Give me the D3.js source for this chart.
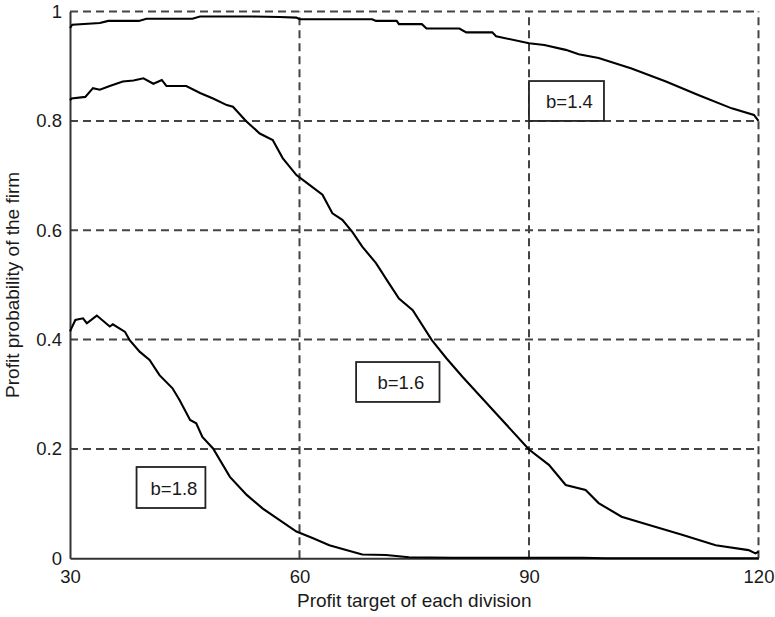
<!DOCTYPE html>
<html>
<head>
<meta charset="utf-8">
<script src="https://cdn.jsdelivr.net/npm/d3@7.9.0/dist/d3.min.js"></script>
<style>
  body { margin: 0; background: #fff; }
  svg { display: block; font-family: "Liberation Sans", Arial, sans-serif; }
</style>
</head>
<body>
<svg width="775" height="617"></svg>
<script>
// values: [profit target, probability]
const b14 = [[30,0.970],[30.3,0.976],[33.9,0.979],[35,0.983],[39,0.983],[40,0.987],[46,0.987],[47,0.991],[53.9,0.991],
  [57.4,0.990],[59.6,0.989],[60,0.986],[69.5,0.986],[70,0.983],[72.7,0.983],[73,0.977],[76,0.977],[76.6,0.969],
  [80.9,0.969],[81.8,0.962],[85.2,0.962],[85.7,0.955],[90,0.942],[92,0.939],[94.8,0.930],[96.5,0.922],[99.1,0.915],
  [103.4,0.896],[107.9,0.872],[112.2,0.847],[116.5,0.823],[119.4,0.811],[120,0.800]];

const b16 = [[30,0.838],[30.2,0.841],[32,0.844],[33,0.860],[33.9,0.857],[35.2,0.864],[36.9,0.872],[38.3,0.874],
  [39.6,0.878],[40.9,0.868],[42,0.875],[42.6,0.864],[45.2,0.864],[47,0.851],[48.7,0.841],[50.5,0.829],[51.3,0.826],
  [53,0.800],[54.8,0.777],[56.5,0.765],[57.8,0.732],[59.6,0.701],[61.3,0.683],[63,0.665],[64.3,0.631],[65.6,0.619],
  [66.9,0.597],[68.2,0.570],[70,0.540],[71.7,0.503],[73,0.475],[74.8,0.454],[77.3,0.399],[79.2,0.366],[81.3,0.332],
  [85.7,0.265],[90,0.199],[92.6,0.171],[94.8,0.134],[97.4,0.125],[99.1,0.101],[102.1,0.076],[105.7,0.061],
  [110,0.043],[114.4,0.024],[118.7,0.015],[119.6,0.009],[120,0.012]];

const b18 = [[30,0.415],[30.2,0.421],[30.7,0.436],[31.7,0.439],[32.2,0.430],[33.5,0.444],[35.2,0.424],[35.6,0.428],
  [37.2,0.414],[37.8,0.399],[39.1,0.378],[40.4,0.363],[41.7,0.335],[43.4,0.311],[44.3,0.290],[45.7,0.253],
  [46.5,0.247],[47.3,0.222],[48.7,0.201],[50.9,0.149],[53.1,0.116],[55.2,0.091],[57.4,0.070],[59.6,0.049],
  [61.7,0.037],[63.9,0.024],[66.1,0.015],[68.2,0.007],[71.3,0.006],[74.3,0.002],[80,0.001],[97,0.001],[100,0],[120,0]];

const xTicks = [30, 60, 90, 120];
const yTicks = [0, 0.2, 0.4, 0.6, 0.8, 1];

// label boxes: text, left/right x, bottom/top y (data units)
const labels = [
  { text: 'b=1.4', x0: 90, x1: 99.8, y0: 0.800, y1: 0.873 },
  { text: 'b=1.6', x0: 67.4, x1: 78.3, y0: 0.286, y1: 0.359 },
  { text: 'b=1.8', x0: 38.7, x1: 47.7, y0: 0.092, y1: 0.167 }
];

const svg = d3.select('svg');
const x = d3.scaleLinear().domain([30, 120]).range([70, 758.5]);
const y = d3.scaleLinear().domain([0, 1]).range([558.3, 11.6]);

// dashed grid
svg.append('g')
  .selectAll('line')
  .data(xTicks.slice(1))
  .join('line')
  .attr('x1', d => x(d)).attr('x2', d => x(d))
  .attr('y1', y(0)).attr('y2', y(1));
svg.append('g')
  .selectAll('line')
  .data(yTicks.slice(1))
  .join('line')
  .attr('x1', x(30)).attr('x2', x(120))
  .attr('y1', d => y(d)).attr('y2', d => y(d));
svg.selectAll('g line')
  .attr('stroke', '#444')
  .attr('stroke-width', 2)
  .attr('stroke-dasharray', '8,5');

// axes
const xAxis = svg.append('g')
  .attr('transform', `translate(0,${y(0)})`)
  .call(d3.axisBottom(x).tickValues(xTicks).tickSize(0).tickPadding(12).tickFormat(d3.format('~g')));
const yAxis = svg.append('g')
  .attr('transform', `translate(${x(30)},0)`)
  .call(d3.axisLeft(y).tickValues(yTicks).tickSize(0).tickPadding(8).tickFormat(d3.format('~g')));
[xAxis, yAxis].forEach(a => {
  a.select('.domain').attr('stroke', '#333').attr('stroke-width', 2);
  a.selectAll('text').attr('font-size', 18.5).attr('fill', '#1a1a1a').attr('font-family', '"Liberation Sans", Arial, sans-serif');
});

// curves
const line = d3.line().x(d => x(d[0])).y(d => y(d[1]));
[b14, b16, b18].forEach(s => {
  svg.append('path')
    .attr('d', line(s))
    .attr('fill', 'none')
    .attr('stroke', '#000')
    .attr('stroke-width', 2.1);
});

// label boxes
labels.forEach(l => {
  svg.append('rect')
    .attr('x', x(l.x0)).attr('y', y(l.y1))
    .attr('width', x(l.x1) - x(l.x0)).attr('height', y(l.y0) - y(l.y1))
    .attr('fill', '#fff').attr('stroke', '#222').attr('stroke-width', 1.8);
  svg.append('text')
    .attr('x', (x(l.x0) + x(l.x1)) / 2 + 3)
    .attr('y', (y(l.y0) + y(l.y1)) / 2 + 7)
    .attr('text-anchor', 'middle')
    .attr('font-size', 18.5)
    .attr('fill', '#1a1a1a')
    .text(l.text);
});

// axis titles
svg.append('text')
  .attr('x', (x(30) + x(120)) / 2)
  .attr('y', 607)
  .attr('text-anchor', 'middle')
  .attr('font-size', 19)
  .attr('fill', '#1a1a1a')
  .text('Profit target of each division');
svg.append('text')
  .attr('transform', `translate(19,${(y(0) + y(1)) / 2}) rotate(-90)`)
  .attr('text-anchor', 'middle')
  .attr('font-size', 19)
  .attr('fill', '#1a1a1a')
  .text('Profit probability of the firm');
</script>
</body>
</html>
